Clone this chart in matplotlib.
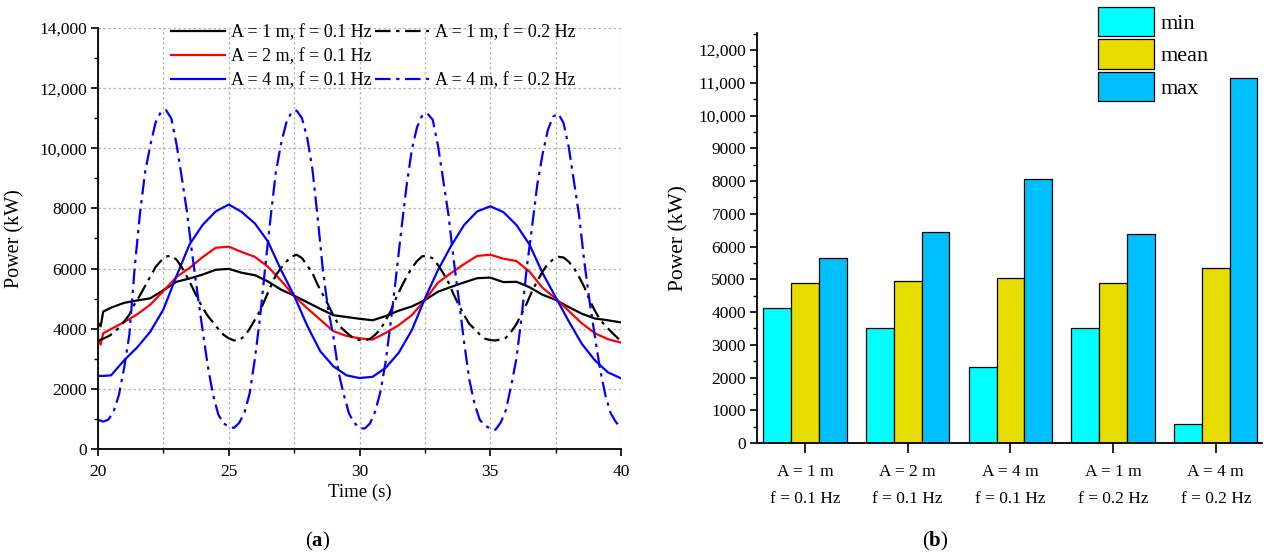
import matplotlib
matplotlib.use('Agg')
import matplotlib.pyplot as plt
import numpy as np
from matplotlib.ticker import MultipleLocator, FuncFormatter
from matplotlib.lines import Line2D

plt.rcParams['font.family'] = 'Liberation Serif'
plt.rcParams['mathtext.fontset'] = 'custom'
plt.rcParams['mathtext.rm'] = 'Liberation Serif'
plt.rcParams['mathtext.bf'] = 'Liberation Serif:bold'

# (a) time series
time_slow = np.r_[20.0, 20.1, 20.2, np.arange(20.5, 40.01, 0.5)]
time_fast = np.linspace(20, 40, 101)

a1_f01 = [4200, 4080, 4570, 4700, 4860, 4940, 5010, 5280, 5560, 5670, 5800, 5960, 5990,
          5860, 5780, 5570, 5300, 5100, 4880, 4660, 4450, 4390, 4330,
          4280, 4420, 4600, 4740, 4950, 5230, 5390, 5540, 5680, 5700,
          5550, 5560, 5380, 5130, 4960, 4720, 4500, 4340, 4280, 4210]
a2_f01 = [3630, 3470, 3850, 3990, 4220, 4480, 4800, 5250, 5720, 6020, 6380, 6690, 6730,
          6550, 6390, 6060, 5600, 5090, 4680, 4300, 3920, 3760, 3680,
          3640, 3860, 4120, 4450, 4950, 5530, 5850, 6150, 6420, 6460,
          6330, 6250, 5900, 5360, 5010, 4590, 4180, 3850, 3650, 3540]
a4_f01 = [2430, 2430, 2430, 2450, 2950, 3380, 3900, 4640, 5750, 6800, 7450, 7900, 8130,
          7880, 7500, 6900, 5950, 5100, 4100, 3250, 2750, 2450, 2360,
          2400, 2700, 3200, 3950, 5000, 5950, 6750, 7450, 7900, 8070,
          7880, 7450, 6800, 5850, 5050, 4250, 3500, 2950, 2550, 2350]

a1_f02 = [3600,
          3670, 3750, 3860, 4040, 4240, 4470, 4820, 5100, 5420, 5730,
          6050, 6250, 6400, 6430, 6300, 6050, 5730, 5390, 5030, 4700,
          4420, 4210, 3990, 3800, 3680, 3610, 3620, 3750, 4000, 4300,
          4600, 5000, 5400, 5780, 6020, 6230, 6400, 6460, 6350, 6100,
          5850, 5460, 5130, 4800, 4440, 4130, 3950, 3800, 3670, 3620,
          3610, 3660, 3800, 3980, 4280, 4600, 5020, 5390, 5720, 6020,
          6250, 6410, 6420, 6340, 6120, 5850, 5540, 5140, 4780, 4450,
          4160, 3990, 3810, 3670, 3620, 3610, 3640, 3700, 3900, 4150,
          4500, 4850, 5250, 5580, 5900, 6150, 6300, 6390, 6370, 6230,
          6020, 5720, 5380, 4950, 4600, 4300, 4100, 3920, 3750, 3590]
a4_f02 = [970,
          910, 980, 1250, 1800, 2700, 3800, 6000, 7800, 9200, 10100,
          10850, 11200, 11270, 11000, 10150, 9050, 7900, 6500, 5200, 3950,
          2750, 1800, 1150, 850, 750, 700, 870, 1200, 1850, 3000,
          4400, 6100, 7700, 9200, 10150, 10850, 11200, 11250, 11000, 10350,
          9300, 7700, 5950, 4650, 3750, 2550, 1800, 1180, 870, 700,
          680, 850, 1250, 1900, 2900, 4250, 5750, 7300, 8750, 9950,
          10700, 11100, 11150, 10950, 10100, 8950, 7800, 6300, 4950, 3550,
          2300, 1500, 970, 780, 680, 640, 880, 1300, 2100, 3000,
          4400, 6050, 7400, 8800, 9800, 10600, 11050, 11150, 10850, 10050,
          8900, 7750, 6200, 4900, 3750, 2650, 1800, 1200, 900, 700]

# (b) bar chart
cases = ['A = 1 m\nf = 0.1 Hz', 'A = 2 m\nf = 0.1 Hz', 'A = 4 m\nf = 0.1 Hz',
         'A = 1 m\nf = 0.2 Hz', 'A = 4 m\nf = 0.2 Hz']
p_min = [4130, 3510, 2310, 3510, 580]
p_mean = [4890, 4940, 5030, 4900, 5350]
p_max = [5660, 6440, 8060, 6390, 11140]


def power_fmt(v, pos):
    v = int(round(v))
    return f'{v:,}' if v >= 10000 else str(v)


W, H = 1264, 558
fig = plt.figure(figsize=(W / 100, H / 100), dpi=100)

# ---- (a) ----
ax1 = fig.add_axes([98 / W, 1 - 449 / H, 523 / W, 421 / H])
dd = (0, (7, 2.5, 1.5, 2.5))
ax1.plot(time_slow, a1_f01, color='black', lw=1.6, label='A = 1 m, f = 0.1 Hz')
ax1.plot(time_slow, a2_f01, color='red', lw=1.6, label='A = 2 m, f = 0.1 Hz')
ax1.plot(time_slow, a4_f01, color='blue', lw=1.6, label='A = 4 m, f = 0.1 Hz')
ax1.plot(time_fast, a1_f02, color='black', lw=1.6, ls=dd, label='A = 1 m, f = 0.2 Hz')
ax1.plot(time_fast, a4_f02, color='blue', lw=1.6, ls=dd, label='A = 4 m, f = 0.2 Hz')

ax1.set_xlim(20, 40)
ax1.set_ylim(0, 14000)
ax1.xaxis.set_major_locator(MultipleLocator(5))
ax1.xaxis.set_minor_locator(MultipleLocator(2.5))
ax1.yaxis.set_major_locator(MultipleLocator(2000))
ax1.yaxis.set_minor_locator(MultipleLocator(1000))
ax1.yaxis.set_major_formatter(FuncFormatter(power_fmt))
ax1.grid(True, which='major', color='#b4b4b4', ls=(0, (2, 2)), lw=0.9)
ax1.grid(True, which='minor', axis='x', color='#b4b4b4', ls=(0, (2, 2)), lw=0.9)
ax1.set_axisbelow(True)
ax1.set_xlabel('Time (s)', fontsize=13.5)
ax1.set_ylabel('Power (kW)', fontsize=14.5)
ax1.xaxis.set_label_coords(0.5, -0.083)
ax1.yaxis.set_label_coords(-0.14, 0.5)

h, l = ax1.get_legend_handles_labels()
blank = Line2D([], [], ls='none')
handles = [h[0], h[1], h[2], h[3], blank, h[4]]
labels = [l[0], l[1], l[2], l[3], ' ', l[4]]
fig.legend(handles, labels, ncol=2, loc='upper left',
           bbox_to_anchor=(171 / W, 1 - 24 / H), frameon=False, fontsize=13,
           handlelength=3.0, handletextpad=0.3, columnspacing=0.2,
           labelspacing=0.4, borderpad=0, borderaxespad=0)

# ---- (b) ----
ax2 = fig.add_axes([757 / W, 1 - 443 / H, 505 / W, 410 / H])
x = np.arange(len(cases))
bw = 0.27
ax2.bar(x - bw, p_min, bw, color='#00ffff', edgecolor='black', lw=0.9, label='min')
ax2.bar(x, p_mean, bw, color='#e6dc00', edgecolor='black', lw=0.9, label='mean')
ax2.bar(x + bw, p_max, bw, color='#00bfff', edgecolor='black', lw=0.9, label='max')
ax2.set_xlim(-0.467, 4.45)
ax2.set_ylim(0, 12520)
ax2.set_xticks(x)
ax2.set_xticklabels(cases, fontsize=12.5, linespacing=1.9)
ax2.yaxis.set_major_locator(MultipleLocator(1000))
ax2.yaxis.set_minor_locator(MultipleLocator(500))
ax2.yaxis.set_major_formatter(FuncFormatter(power_fmt))
ax2.set_ylabel('Power (kW)', fontsize=15.5)
ax2.yaxis.set_label_coords(-0.135, 0.5)
ax2.tick_params(axis='x', length=7, pad=8)
fig.legend(loc='upper left', bbox_to_anchor=(1098 / W, 1 - 7 / H),
           handles=ax2.get_legend_handles_labels()[0],
           frameon=False, fontsize=16, handlelength=2.5, handleheight=1.65,
           handletextpad=0.3, labelspacing=0.14, borderpad=0, borderaxespad=0)

for ax in (ax1, ax2):
    for s in ('top', 'right'):
        ax.spines[s].set_visible(False)
    for s in ('left', 'bottom'):
        ax.spines[s].set_linewidth(1.3)
    ax.tick_params(which='major', direction='out', width=1.2, labelsize=12.5)
    ax.tick_params(which='minor', direction='out', width=1.0, length=3)
    ax.tick_params(axis='y', which='major', length=5, pad=3)
ax1.tick_params(axis='x', which='major', length=5, pad=6)

fig.text(318 / W, 1 - 541 / H, r'($\mathbf{a}$)', fontsize=15, ha='center', va='center')
fig.text(935 / W, 1 - 541 / H, r'($\mathbf{b}$)', fontsize=15, ha='center', va='center')

fig.savefig('out.png', dpi=100)
